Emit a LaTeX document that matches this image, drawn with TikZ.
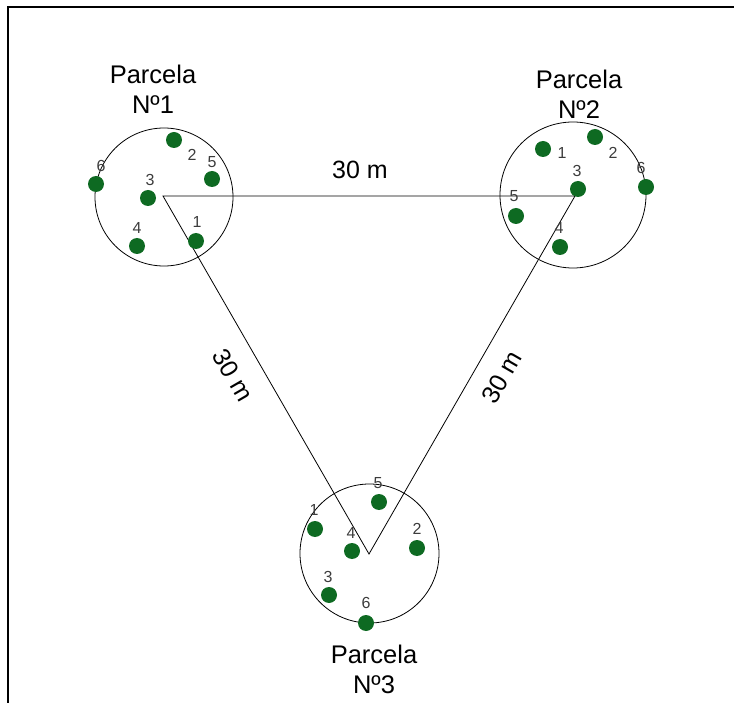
\documentclass[tikz,border=0pt]{standalone}
\usepackage{fontspec}
\setmainfont{Liberation Sans}
\definecolor{dotgreen}{RGB}{14,106,34}
\definecolor{numgray}{RGB}{60,60,60}
\begin{document}
\begin{tikzpicture}[x=1pt,y=-1pt,
  plotcircle/.style={draw=black, line width=0.8pt, circle, inner sep=0pt},
  tree/.style={circle, fill=dotgreen, inner sep=0pt, minimum size=16pt},
  num/.style={font=\fontsize{16}{16}\selectfont, text=numgray, inner sep=0pt},
  ptitle/.style={font=\fontsize{25.5}{30}\selectfont, align=center, inner sep=0pt},
  dist/.style={font=\fontsize{25}{30}\selectfont, inner sep=0pt},
  side/.style={line width=0.8pt},
  frameline/.style={line width=2.6pt}]
\useasboundingbox (0,0) rectangle (734,703);
% frame
\coordinate (fbl) at (8,703);
\coordinate (ftl) at (8,7);
\coordinate (ftr) at (734,7);
\draw[frameline] (fbl) -- (ftl) -- (ftr);

% plots
\node[plotcircle, minimum size=138pt] (p1) at (164,197) {};
\node[plotcircle, minimum size=146pt] (p2) at (573,195) {};
\node[plotcircle, minimum size=139pt] (p3) at (369.5,553.5) {};

% triangle
\coordinate (A) at (163,196);
\coordinate (B) at (575,196);
\coordinate (C) at (369,554);
\draw[side] (A) -- (B) -- (C) -- cycle;

% distance labels
\node[dist] (dAB) at (360,170) {30 m};
\node[dist, rotate=-60] (dAC) at (233,375) {30 m};
\node[dist, rotate=60] (dBC) at (502,377) {30 m};

% titles
\node[ptitle] (t1) at (153,89) {Parcela\\Nº1};
\node[ptitle] (t2) at (579,94) {Parcela\\Nº2};
\node[ptitle] (t3) at (374,669) {Parcela\\Nº3};

% plot 1 trees
\node[tree] (a1) at (196,241) {};
\node[tree] (a2) at (174,140) {};
\node[tree] (a3) at (148,198) {};
\node[tree] (a4) at (137,246) {};
\node[tree] (a5) at (212,179) {};
\node[tree] (a6) at (96,184) {};
\node[num] (la1) at (197,222) {1};
\node[num] (la2) at (192,155) {2};
\node[num] (la3) at (150,180) {3};
\node[num] (la4) at (137,228) {4};
\node[num] (la5) at (212,162) {5};
\node[num] (la6) at (101,166) {6};

% plot 2 trees
\node[tree] (b1) at (543,149) {};
\node[tree] (b2) at (595,137) {};
\node[tree] (b3) at (578,189) {};
\node[tree] (b4) at (560,247) {};
\node[tree] (b5) at (516,216) {};
\node[tree] (b6) at (646,187) {};
\node[num] (lb1) at (562,153) {1};
\node[num] (lb2) at (613,153) {2};
\node[num] (lb3) at (577,171) {3};
\node[num] (lb4) at (559,228) {4};
\node[num] (lb5) at (514,196) {5};
\node[num] (lb6) at (641,168) {6};

% plot 3 trees
\node[tree] (c1) at (315,529) {};
\node[tree] (c2) at (417,548) {};
\node[tree] (c3) at (329,595) {};
\node[tree] (c4) at (352,551) {};
\node[tree] (c5) at (379,502) {};
\node[tree] (c6) at (366,623) {};
\node[num] (lc1) at (314,510) {1};
\node[num] (lc2) at (417,529) {2};
\node[num] (lc3) at (328,577) {3};
\node[num] (lc4) at (351,533) {4};
\node[num] (lc5) at (378,483) {5};
\node[num] (lc6) at (366,603) {6};
\end{tikzpicture}
\end{document}
